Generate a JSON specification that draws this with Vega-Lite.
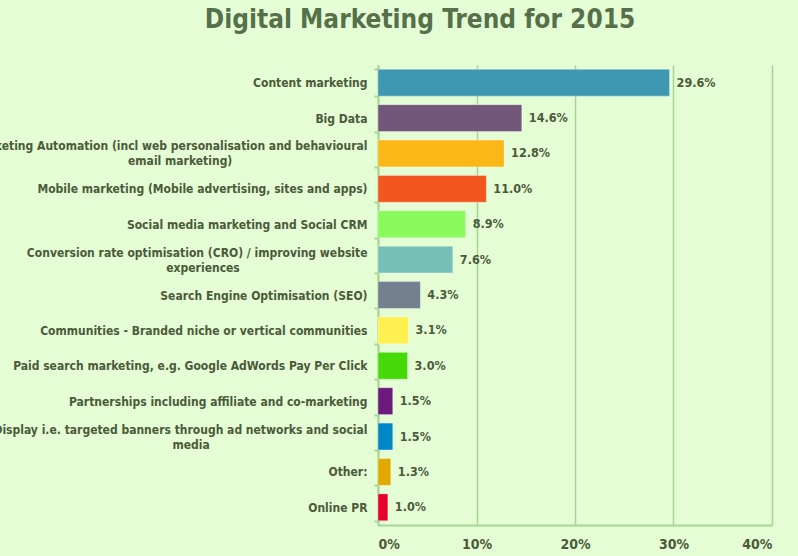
{
  "$schema": "https://vega.github.io/schema/vega-lite/v6.json",
  "autosize": {"type": "none"},
  "padding": {"left": 378, "top": 65, "right": 26, "bottom": 31},
  "width": 394,
  "height": 460,
  "background": "#e5fdd5",
  "title": {
    "text": "Digital Marketing Trend for 2015",
    "font": "DejaVu Sans Condensed, DejaVu Sans, sans-serif",
    "fontSize": 26,
    "fontWeight": "bold",
    "color": "#56704b",
    "anchor": "middle",
    "dx": -155,
    "offset": 26
  },
  "data": {
    "values": [
      {"topic": "Content marketing", "share": 0.296},
      {"topic": "Big Data", "share": 0.146},
      {"topic": "Marketing Automation (incl web personalisation and behavioural email marketing)", "share": 0.128},
      {"topic": "Mobile marketing (Mobile advertising, sites and apps)", "share": 0.110},
      {"topic": "Social media marketing and Social CRM", "share": 0.089},
      {"topic": "Conversion rate optimisation (CRO) / improving website experiences", "share": 0.076},
      {"topic": "Search Engine Optimisation (SEO)", "share": 0.043},
      {"topic": "Communities - Branded niche or vertical communities", "share": 0.031},
      {"topic": "Paid search marketing, e.g. Google AdWords Pay Per Click", "share": 0.030},
      {"topic": "Partnerships including affiliate and co-marketing", "share": 0.015},
      {"topic": "Display i.e. targeted banners through ad networks and social media", "share": 0.015},
      {"topic": "Other:", "share": 0.013},
      {"topic": "Online PR", "share": 0.010}
    ]
  },
  "encoding": {
    "x": {
      "field": "share",
      "type": "quantitative",
      "scale": {"domain": [0, 0.4]},
      "axis": {
        "title": null,
        "values": [0, 0.1, 0.2, 0.3, 0.4],
        "format": ".0%",
        "domainColor": "#a6d594",
        "domainWidth": 2,
        "ticks": false,
        "grid": true,
        "gridColor": "#a6d594",
        "gridWidth": 1.5,
        "labelFont": "DejaVu Sans Condensed, DejaVu Sans, sans-serif",
        "labelFontSize": 14,
        "labelFontWeight": "bold",
        "labelColor": "#4b5a3a",
        "labelPadding": 12
      }
    }
  },
  "layer": [
    {
      "mark": {"type": "bar", "stroke": "#ffffff", "strokeOpacity": 0.35, "strokeWidth": 1},
      "encoding": {
        "y": {
          "field": "topic",
          "type": "nominal",
          "sort": null,
          "scale": {"paddingInner": 0.24, "paddingOuter": 0.12},
          "axis": {
            "orient": "left",
            "title": null,
            "domainColor": "#a6d594",
            "domainWidth": 2,
            "tickColor": "#a6d594",
            "tickWidth": 2,
            "tickSize": 4,
            "tickBand": "extent",
            "tickOffset": 4.25,
            "labelFont": "DejaVu Sans Condensed, DejaVu Sans, sans-serif",
            "labelFontSize": 12,
            "labelFontWeight": "bold",
            "labelColor": "#4b5a3a",
            "labelLimit": 900,
            "labelPadding": 7,
            "labelBaseline": "middle",
            "labelExpr": "indexof(datum.label, 'Marketing Automation') == 0 || indexof(datum.label, 'Conversion rate') == 0 || indexof(datum.label, 'Display i.e.') == 0 ? '' : datum.label"
          }
        },
        "color": {
          "field": "topic",
          "type": "nominal",
          "legend": null,
          "scale": {
            "domain": [
              "Content marketing",
              "Big Data",
              "Marketing Automation (incl web personalisation and behavioural email marketing)",
              "Mobile marketing (Mobile advertising, sites and apps)",
              "Social media marketing and Social CRM",
              "Conversion rate optimisation (CRO) / improving website experiences",
              "Search Engine Optimisation (SEO)",
              "Communities - Branded niche or vertical communities",
              "Paid search marketing, e.g. Google AdWords Pay Per Click",
              "Partnerships including affiliate and co-marketing",
              "Display i.e. targeted banners through ad networks and social media",
              "Other:",
              "Online PR"
            ],
            "range": ["#3f98b2", "#73577a", "#fbb617", "#f4561f", "#89fa5b", "#76bfb7", "#748090", "#fff04f", "#45d90a", "#6b1b7b", "#0088c6", "#e0a800", "#e8002c"]
          }
        }
      }
    },
    {
      "mark": {
        "type": "text",
        "align": "left",
        "baseline": "middle",
        "dx": 7,
        "font": "DejaVu Sans Condensed, DejaVu Sans, sans-serif",
        "fontSize": 12.5,
        "fontWeight": "bold",
        "color": "#4b5a3a"
      },
      "encoding": {
        "y": {
          "field": "topic",
          "type": "nominal",
          "sort": null,
          "axis": {
            "orient": "left",
            "title": null,
            "domain": false,
            "tickOpacity": 0,
            "tickSize": 4,
            "labelFont": "DejaVu Sans Condensed, DejaVu Sans, sans-serif",
            "labelFontSize": 12,
            "labelFontWeight": "bold",
            "labelColor": "#4b5a3a",
            "labelLimit": 900,
            "labelLineHeight": 15,
            "labelPadding": 7,
            "labelBaseline": "bottom",
            "labelExpr": "indexof(datum.label, 'Marketing Automation') == 0 ? ['Marketing Automation (incl web personalisation and behavioural', pad('email marketing)', 52, '\u00a0') + '\u200b'] : indexof(datum.label, 'Conversion rate') == 0 ? ['Conversion rate optimisation (CRO) / improving website', pad('experiences', 45, '\u00a0') + '\u200b'] : indexof(datum.label, 'Display i.e.') == 0 ? ['Display i.e. targeted banners through ad networks and social', pad('media', 47, '\u00a0') + '\u200b'] : ''"
          }
        },
        "text": {"field": "share", "type": "quantitative", "format": ".1%"}
      }
    }
  ],
  "resolve": {"axis": {"y": "independent"}},
  "config": {
    "view": {"stroke": null}
  }
}
